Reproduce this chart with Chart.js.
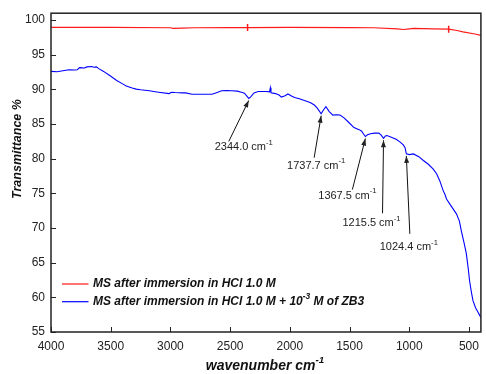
<!DOCTYPE html>
<html lang="en">
<head>
<meta charset="UTF-8">
<title>FTIR spectra</title>
<script src="https://cdn.jsdelivr.net/npm/chart.js"></script>
<style>
  body { margin: 0; background: #fff; }
  #wrap { width: 486px; height: 374px; }
</style>
</head>
<body>
<div id="wrap"><canvas id="ftir"></canvas></div>
<script>
// spectrum of the blank sample
const redWave = [4000, 3500, 3000, 2980, 2900, 2800, 2500, 2354, 2000, 1500, 1300, 1100, 1048, 1000, 965, 800, 670, 600, 550, 450, 400];
const redT    = [98.95, 98.95, 98.9, 98.82, 98.85, 98.9, 98.93, 98.93, 98.95, 98.93, 98.9, 98.75, 98.65, 98.75, 98.8, 98.75, 98.7, 98.5, 98.3, 98.0, 97.8];
const redMarks = [2354, 670];

// spectrum with inhibitor
const blueWave = [4000, 3950, 3900, 3850, 3800, 3780, 3760, 3720, 3700, 3660, 3640, 3620, 3600, 3560, 3508, 3450, 3400, 3370, 3320, 3287,
  3250, 3177, 3100, 3011, 2990, 2960, 2900, 2872, 2820, 2750, 2652, 2620, 2571, 2530, 2488, 2440, 2405, 2380, 2363, 2344.0,
  2330, 2300, 2265, 2200, 2170, 2163, 2158, 2120, 2090, 2071, 2040, 2016, 1990, 1961, 1920, 1878, 1830, 1795, 1770, 1737.7,
  1720, 1698, 1670, 1640, 1610, 1580, 1546, 1510, 1463, 1420, 1400, 1380, 1367.5, 1350, 1325, 1290, 1255, 1235, 1215.5, 1200,
  1187, 1150, 1110, 1076, 1050, 1035, 1024.4, 1000, 965, 920, 882, 840, 799, 770, 744, 716, 700, 688, 650, 605,
  580, 564, 540, 522, 505, 495, 480, 467, 445, 425, 410, 400];
const blueT = [92.6, 92.55, 92.7, 92.85, 92.8, 92.85, 93.15, 93.1, 93.25, 93.3, 93.2, 93.25, 93.0, 92.6, 92.0, 91.3, 90.8, 90.5, 90.2, 90.05,
  89.95, 89.8, 89.6, 89.4, 89.6, 89.55, 89.5, 89.5, 89.3, 89.3, 89.3, 89.5, 89.8, 89.85, 89.8, 89.75, 89.6, 89.45, 89.1, 88.7,
  88.9, 89.5, 89.7, 89.7, 89.65, 90.25, 89.5, 89.4, 89.2, 88.9, 89.1, 89.35, 89.1, 88.85, 88.65, 88.4, 88.1, 87.75, 87.3, 86.5,
  87.0, 87.5, 86.8, 86.3, 86.35, 86.3, 85.9, 85.3, 84.5, 84.2, 84.0, 83.5, 83.2, 83.45, 83.6, 83.7, 83.7, 83.4, 82.95, 83.3,
  83.35, 83.1, 82.8, 82.4, 82.0, 81.6, 80.7, 80.6, 80.7, 80.3, 79.75, 79.2, 78.5, 77.8, 76.8, 75.4, 74.8, 74.2, 73.2, 72.05,
  71.0, 69.6, 67.8, 66.3, 64.0, 62.4, 60.8, 59.55, 58.5, 57.9, 57.4, 57.1];

// labelled bands
const peakWave = [2344.0, 1737.7, 1367.5, 1215.5, 1024.4];

const xTicks = [4000, 3500, 3000, 2500, 2000, 1500, 1000, 500];
const yTicks = [55, 60, 65, 70, 75, 80, 85, 90, 95, 100];

const FONT = "'Liberation Sans', Arial, sans-serif";

// arrow tail and label centre, px offsets from the arrow tip
const peakLayout = [
  { tx: -20, ty: 41, lx: -5,  ly: 47 },
  { tx: -7,  ty: 42, lx: -5,  ly: 50 },
  { tx: -13, ty: 51, lx: -18, ly: 57 },
  { tx: -1,  ty: 73, lx: -12, ly: 83 },
  { tx: 3.5, ty: 78, lx: 2.5, ly: 91 }
];

const redPts = redWave.map((w, i) => ({ x: w, y: redT[i] }));
const bluePts = blueWave.map((w, i) => ({ x: w, y: blueT[i] }));

// draws a run of [text, superscript?] pieces starting at x
function textWidth(ctx, parts, size, style) {
  let w = 0;
  parts.forEach(p => {
    ctx.font = style + ' ' + (p[1] ? size * 0.7 : size) + 'px ' + FONT;
    w += ctx.measureText(p[0]).width;
  });
  return w;
}
function drawParts(ctx, parts, x, y, size, style) {
  parts.forEach(p => {
    const s = p[1] ? size * 0.7 : size;
    ctx.font = style + ' ' + s + 'px ' + FONT;
    ctx.fillText(p[0], x, p[1] ? y - size * 0.4 : y);
    x += ctx.measureText(p[0]).width;
  });
}

const decor = {
  id: 'decor',
  afterDraw(chart) {
    const ctx = chart.ctx;
    const a = chart.chartArea;
    const xs = chart.scales.x, ys = chart.scales.y;
    ctx.save();

    // frame
    ctx.strokeStyle = '#222';
    ctx.lineWidth = 1.5;
    ctx.strokeRect(a.left, a.top, a.right - a.left, a.bottom - a.top);

    // inward ticks on bottom and left
    ctx.lineWidth = 1;
    ctx.beginPath();
    xTicks.forEach(v => {
      const px = Math.round(xs.getPixelForValue(v)) + 0.5;
      ctx.moveTo(px, a.bottom);
      ctx.lineTo(px, a.bottom - 5);
    });
    yTicks.forEach(v => {
      const py = Math.round(ys.getPixelForValue(v)) + 0.5;
      ctx.moveTo(a.left, py);
      ctx.lineTo(a.left + 5, py);
    });
    ctx.stroke();

    // band arrows and labels
    ctx.fillStyle = '#222';
    ctx.strokeStyle = '#111';
    ctx.textBaseline = 'middle';
    peakWave.forEach((w, i) => {
      const t = blueT[blueWave.indexOf(w)];
      const tipX = xs.getPixelForValue(w);
      const tipY = ys.getPixelForValue(t) + 2;
      const L = peakLayout[i];
      const tailX = tipX + L.tx, tailY = tipY + L.ty;
      ctx.lineWidth = 1;
      ctx.beginPath();
      ctx.moveTo(tailX, tailY);
      ctx.lineTo(tipX, tipY);
      ctx.stroke();
      const ang = Math.atan2(tipY - tailY, tipX - tailX);
      ctx.beginPath();
      ctx.moveTo(tipX, tipY);
      ctx.lineTo(tipX - 7 * Math.cos(ang) + 2.5 * Math.sin(ang), tipY - 7 * Math.sin(ang) - 2.5 * Math.cos(ang));
      ctx.lineTo(tipX - 7 * Math.cos(ang) - 2.5 * Math.sin(ang), tipY - 7 * Math.sin(ang) + 2.5 * Math.cos(ang));
      ctx.closePath();
      ctx.fill();
      const parts = [[w.toFixed(1) + ' cm', false], ['-1', true]];
      const tw = textWidth(ctx, parts, 11, 'normal');
      drawParts(ctx, parts, tipX + L.lx - tw / 2, tipY + L.ly, 11, 'normal');
    });

    // legend
    const items = [
      { color: '#ff1a1a', parts: [['MS after immersion in HCl 1.0 M', false]] },
      { color: '#0000ff', parts: [['MS after immersion in HCl 1.0 M + 10', false], ['-3', true], [' M of ZB3', false]] }
    ];
    items.forEach((it, i) => {
      const y = a.bottom - 48 + i * 17.7;
      ctx.strokeStyle = it.color;
      ctx.lineWidth = 1.2;
      ctx.beginPath();
      ctx.moveTo(a.left + 11, y);
      ctx.lineTo(a.left + 37.5, y);
      ctx.stroke();
      ctx.fillStyle = '#111';
      drawParts(ctx, it.parts, a.left + 42, y, 12, 'italic bold');
    });

    // axis titles
    ctx.fillStyle = '#111';
    ctx.textAlign = 'left';
    const xt = [['wavenumber cm', false], ['-1', true]];
    const xw = textWidth(ctx, xt, 14, 'italic bold');
    drawParts(ctx, xt, 265 - xw / 2, 366, 14, 'italic bold');

    ctx.translate(18, 149);
    ctx.rotate(-Math.PI / 2);
    ctx.font = 'italic bold 12.5px ' + FONT;
    ctx.textAlign = 'center';
    ctx.fillText('Transmittance %', 0, 0);
    ctx.restore();
  }
};

new Chart(document.getElementById('ftir'), {
  type: 'line',
  data: {
    datasets: [
      {
        label: 'MS after immersion in HCl 1.0 M',
        data: redPts,
        borderColor: '#ff1a1a',
        borderWidth: 1.2,
        pointRadius: redWave.map(w => redMarks.includes(w) ? 3.5 : 0),
        pointStyle: 'line',
        pointRotation: 90,
        pointBorderColor: '#ff1a1a',
        pointBorderWidth: 1.5,
        tension: 0
      },
      {
        label: 'MS after immersion in HCl 1.0 M + 10-3 M of ZB3',
        data: bluePts,
        borderColor: '#0000ff',
        borderWidth: 1.1,
        pointRadius: 0,
        tension: 0
      }
    ]
  },
  options: {
    responsive: true,
    maintainAspectRatio: false,
    animation: false,
    layout: { padding: { top: 12, right: 1, left: 0, bottom: 0 } },
    plugins: {
      legend: { display: false },
      tooltip: { enabled: false }
    },
    scales: {
      x: {
        type: 'linear',
        reverse: true,
        min: 400,
        max: 4000,
        afterBuildTicks: s => { s.ticks = xTicks.map(v => ({ value: v })); },
        afterFit: s => { s.height = 42; },
        grid: { display: false, drawTicks: false },
        border: { display: false },
        ticks: { padding: 7, color: '#222', font: { family: FONT, size: 12 }, maxRotation: 0, callback: v => String(v) }
      },
      y: {
        min: 55,
        max: 101,
        afterBuildTicks: s => { s.ticks = yTicks.map(v => ({ value: v })); },
        afterFit: s => { s.width = 51; },
        grid: { display: false, drawTicks: false },
        border: { display: false },
        ticks: { padding: 6, color: '#222', font: { family: FONT, size: 12 }, callback: v => String(v) }
      }
    }
  },
  plugins: [decor]
});
</script>
</body>
</html>
